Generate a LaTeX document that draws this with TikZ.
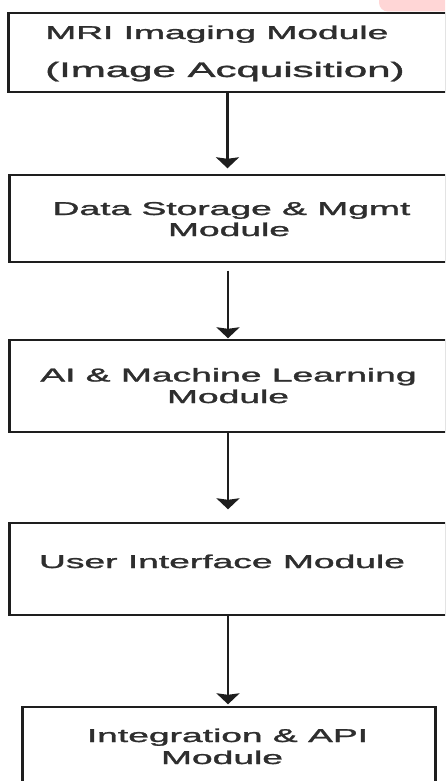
\documentclass[tikz,border=0pt]{standalone}
\usepackage{fontspec}
\usepackage{graphicx}
\setmainfont{Liberation Sans}
\newfontfamily\modfont[FakeBold=1.2]{Liberation Sans}
\usetikzlibrary{arrows.meta}
\definecolor{inkline}{HTML}{1E1E1E}
\definecolor{inktext}{HTML}{2E2E2E}
\definecolor{pinkpatch}{HTML}{FFD6D6}
% text is drawn twice as wide as it is tall
\newcommand\widetext[1]{\scalebox{2}[1]{#1}}
\tikzset{
  modbox/.style={draw=inkline, line width=1.4pt, inner sep=0pt, fill=none},
  sideedge/.style={draw=inkline, line width=2.8pt},
  lbl/.style={inner sep=0pt, text=inktext, font=\modfont\fontsize{18.6}{22}\selectfont},
  lblbig/.style={inner sep=0pt, text=inktext, font=\modfont\fontsize{21}{24}\selectfont},
  flow/.style={draw=inkline, line width=2.5pt,
    -{Stealth[width=23pt, length=11pt, inset=1.5pt]}},
}
\begin{document}
\begin{tikzpicture}[x=1pt, y=-1pt]
  \path[use as bounding box, clip] (0,0) rectangle (445,781);
  \fill[white] (0,0) rectangle (445,781);

  % pink patch in the upper right corner
  \fill[pinkpatch, rounded corners=9pt] (379,-30) rectangle (470,11.5);

  % module boxes
  \node[modbox, minimum width=437pt, minimum height=79pt] (b1) at (227.5,52.5) {};
  \node[modbox, minimum width=436pt, minimum height=87pt] (b2) at (228,218.5) {};
  \node[modbox, minimum width=436pt, minimum height=92pt] (b3) at (228,386) {};
  \node[modbox, minimum width=436pt, minimum height=92pt] (b4) at (228,569) {};
  \node[modbox, minimum width=412pt, minimum height=93pt] (b5) at (229,753.5) {};

  % heavier vertical edges
  \foreach \b in {b1,b2,b3,b4,b5}
    \draw[sideedge] (\b.north west) -- (\b.south west);
  \draw[sideedge] (b5.north east) -- (b5.south east);

  % labels
  \node[lbl, anchor=base west] (t1a) at (45,39) {\widetext{MRI Imaging Module}};
  \node[lblbig, anchor=base west] (t1b) at (45,77) {\widetext{(Image Acquisition)}};

  \node[lbl, anchor=base] (t2a) at (231.5,215) {\widetext{Data Storage \& Mgmt}};
  \node[lbl, anchor=base] (t2b) at (229,236) {\widetext{Module}};

  \node[lbl, anchor=base] (t3a) at (228.5,381.5) {\widetext{AI \& Machine Learning}};
  \node[lbl, anchor=base] (t3b) at (228,403) {\widetext{Module}};

  \node[lbl, anchor=base] (t4a) at (222,568) {\widetext{User Interface Module}};

  \node[lbl, anchor=base] (t5a) at (227.5,742) {\widetext{Integration \& API}};
  \node[lbl, anchor=base] (t5b) at (222,764) {\widetext{Module}};

  % flow arrows
  \draw[flow, shorten >=6pt] (b1.south) -- (b1.south |- b2.north);
  \draw[flow, shorten <=8pt, shorten >=1pt] (b2.south) -- (b2.south |- b3.north);
  \draw[flow, shorten >=13pt] (b3.south) -- (b3.south |- b4.north);
  \draw[flow, shorten >=2pt] (b4.south) -- (b4.south |- b5.north);
\end{tikzpicture}
\end{document}
